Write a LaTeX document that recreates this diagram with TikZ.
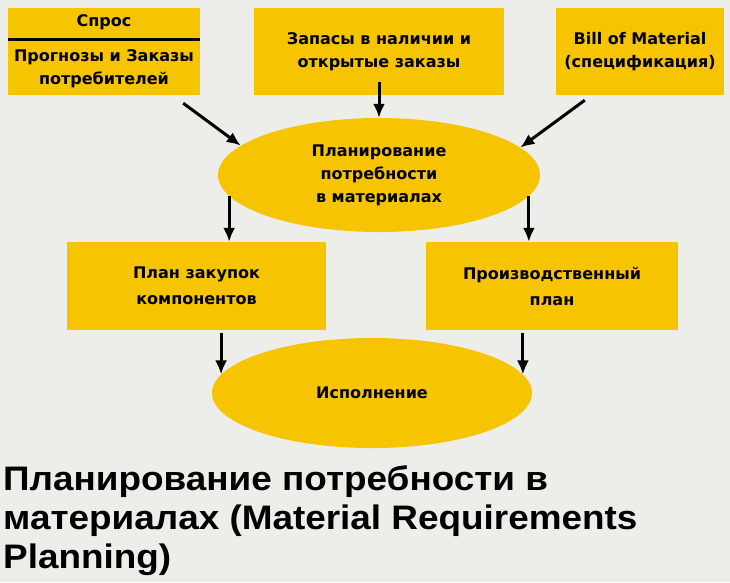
\documentclass[tikz,border=0pt]{standalone}
\usepackage{fontspec}
\setmainfont{DejaVu Sans}
\newfontfamily\titlefont[FakeStretch=1.085]{Liberation Sans}
\usetikzlibrary{shapes.geometric,arrows.meta}
\definecolor{mrpyellow}{RGB}{246,196,0}
\definecolor{mrpback}{RGB}{237,237,233}
\begin{document}
\begin{tikzpicture}[x=1pt, y=-1pt, >=latex,
  box/.style={fill=mrpyellow, inner sep=0pt, align=center},
  oval/.style={ellipse, fill=mrpyellow, inner sep=0pt, align=center},
  lbl/.style={font=\bfseries\fontsize{16}{23}\selectfont, align=center},
  arr/.style={line width=3pt, -{Latex[length=14pt,width=12pt]}}]
% fond
\fill[mrpback] (0, 0) rectangle (730, 582);
\useasboundingbox (0, 0) rectangle (730, 582);

% rangée du haut
\node[box, minimum width=192pt, minimum height=87pt] (demand) at (104, 51.5) {};
\node[lbl] (demandhead) at (104, 22) {Спрос};
\draw[line width=3pt] ([yshift=-32pt]demand.north west) -- ([yshift=-32pt]demand.north east);
\node[lbl] (demandtext) at (104, 68.5) {Прогнозы и Заказы\\потребителей};

\node[box, lbl, minimum width=250pt, minimum height=87pt] (stock) at (379, 51.5)
  {Запасы в наличии и\\открытые заказы};
\node[box, lbl, minimum width=168pt, minimum height=87pt] (bom) at (640, 51.5)
  {Bill of Material\\(спецификация)};

% MRP
\node[oval, lbl, minimum width=322pt, minimum height=114pt] (mrp) at (379, 175)
  {Планирование\\потребности\\в материалах};

% plans
\node[box, lbl, minimum width=259pt, minimum height=88pt,
  font=\bfseries\fontsize{16}{26}\selectfont] (purchase) at (196.5, 286)
  {План закупок\\компонентов};
\node[box, lbl, minimum width=252pt, minimum height=88pt,
  font=\bfseries\fontsize{16}{26}\selectfont] (production) at (552, 286)
  {Производственный\\план};

\node[oval, lbl, minimum width=320pt, minimum height=110pt] (exec) at (372, 393)
  {Исполнение};

% flèches
\coordinate (demandout) at ([shift={(-17, 8)}]demand.south east);
\coordinate (bomout) at ([shift={(29, 5)}]bom.south west);
\draw[arr] (demandout) -- (mrp.168);
\draw[arr] ([yshift=13pt]stock.south) -- (mrp.north);
\draw[arr] (bomout) -- (mrp.11);
\draw[arr] (mrp.188) -- (mrp.188 |- purchase.north);
\draw[arr] (mrp.352) -- (mrp.352 |- production.north);
\draw[arr] ([yshift=-3pt]exec.173 |- purchase.south) -- (exec.173);
\draw[arr] ([yshift=-3pt]exec.7 |- production.south) -- (exec.7);

% titre
\node[anchor=north west, align=left, inner sep=0pt,
  font=\titlefont\bfseries\fontsize{34}{39}\selectfont] (title) at (3, 465)
  {Планирование потребности в\\материалах (Material Requirements\\Planning)};
\end{tikzpicture}
\end{document}
